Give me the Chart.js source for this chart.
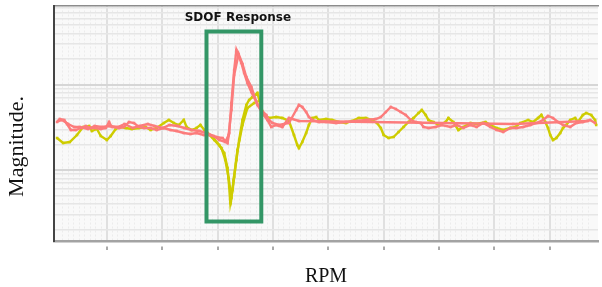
<!DOCTYPE html>
<html>
<head>
<meta charset="utf-8">
<script src="https://cdn.jsdelivr.net/npm/chart.js@4.4.0/dist/chart.umd.min.js"></script>
<style>
  html, body { margin: 0; padding: 0; background: #fff; }
  #wrap { width: 602px; height: 287px; position: relative; }
</style>
</head>
<body>
<div id="wrap"><canvas id="sdof-chart"></canvas></div>
<script>
// values (rpm, magnitude in plot units)
var pinkRpm = [100,150,230,280,350,440,530,620,710,800,890,980,1040,1090,1220,1310,1400,1490,1580,1670,
    1790,1900,2030,2150,2260,2390,2510,2620,2750,2850,2980,3090,3180,3210,3250,3300,3340,3360,3430,3480,
    3540,3610,3700,3790,3880,3930,3990,4110,4290,4420,4470,4530,4600,4650,4710,4830,4960,5140,5320,5500,
    5680,5860,5950,6040,6130,6220,6310,6400,6490,6580,6670,6720,6810,6940,7050,7210,7320,7440,7570,7680,
    7800,7930,8040,8160,8290,8400,8520,8650,8760,8880,8970,9060,9150,9240,9370,9480,9600,9730,9820];
var pinkMag = [119,122,121,117,111,111,113,115,113,113,112,113,119,114,113,114,119,118,114,113,
    113,111,113,111,110,108,107,108,106,106,104,103,98,108,138,171,191,188,178,168,
    158,149,139,131,126,121,118,116,118,131,136,134,129,124,121,119,119,118,119,120,
    121,122,124,129,134,132,129,126,121,119,118,114,113,114,116,114,116,113,116,114,
    118,114,111,109,113,113,114,116,118,121,125,123,119,116,114,118,119,121,118];

// run-down pass of the red trace
var pinkBackRpm = [9690,8340,4470,4290,4170,4060,3970,3900,3810,3720,3610,3520,3450,3380,3300,3250,3200,3140,3030,2930,
    2800,2670,2530,2400,2280,2130,2010,1860,1740,1590,1470,1320,1200,1050,910,780,660,510,410,300,190,120];
var pinkBackMag = [120,117,120,123,114,116,114,121,128,136,154,164,177,187,166,131,106,99,101,105,
    108,110,111,113,115,116,113,115,117,115,113,117,114,115,114,115,112,114,114,117,121,120];

var yellowRpm = [100,210,330,460,570,680,730,820,890,1000,1070,1160,1250,1340,1450,1580,1700,1790,1900,2030,
    2120,2210,2300,2390,2440,2530,2620,2690,2760,2910,3030,3120,3180,3210,3230,3270,3300,3340,3390,3450,
    3520,3570,3630,3720,3790,3840,3930,4060,4170,4290,4380,4440,4470,4530,4600,4650,4710,4780,4830,4960,
    5070,5190,5320,5430,5550,5680,5790,5880,5950,6000,6090,6180,6270,6360,6450,6540,6630,6690,6760,6810,
    6900,6990,7120,7170,7260,7350,7440,7570,7680,7840,7930,8040,8160,8290,8380,8470,8610,8700,8790,8850,
    8920,8970,9010,9060,9120,9190,9240,9300,9370,9460,9510,9600,9660,9750,9820,9840];
var yellowMag = [103,98,99,106,114,115,110,112,105,101,105,112,114,113,112,113,114,111,113,118,
    121,118,116,121,114,111,113,116,111,104,96,88,73,54,38,51,64,81,101,121,
    136,141,144,148,133,126,123,124,123,120,106,96,93,99,108,116,123,124,121,122,
    121,119,118,120,123,123,121,118,113,106,103,104,109,114,119,123,128,131,126,121,
    119,116,119,123,119,111,114,118,117,119,116,113,111,113,114,118,121,119,123,126,
    119,113,106,101,103,108,113,116,121,123,119,126,128,126,121,116];

// second pass of the yellow trace through the resonance
var yellowBackRpm = [3790,3660,3540,3450,3360,3290,3250,3200,3140,3070,2940,2820];
var yellowBackMag = [141,138,133,116,91,61,43,63,81,93,101,108];

var rpmTicks = [1000,2000,3000,4000,5000,6000,7000,8000,9000];
var rpmMin = 45, rpmMax = 9873;
var magMin = 0, magMax = 235;
var gridDecades = [0.1, 1, 10];
var sdofBox = { from: 2800, to: 3790, low: 19.5, high: 209.5 };

var pink = 'rgb(252,124,124)';
var yellow = 'rgb(206,204,0)';
var boxGreen = 'rgb(51,150,102)';

function toPoints(xs, ys) {
    var pts = [];
    for (let i = 0; i < xs.length; i++) {
        pts.push({x: xs[i], y: ys[i]});
    }
    return pts;
}

function traceSet(label, xs, ys, color, order) {
    return {
        label: label,
        data: toPoints(xs, ys),
        showLine: true,
        borderColor: color,
        backgroundColor: color,
        borderWidth: 2.4,
        pointStyle: 'rect',
        pointRadius: 1.8,
        pointBorderWidth: 0,
        tension: 0,
        order: order
    };
}

var gridTicks = [];
gridDecades.forEach(function (d) {
    for (let k = 1; k < 10; k++) gridTicks.push(+(d * k).toPrecision(3));
});

var plotDecor = {
    id: 'plotDecor',
    beforeDraw: function (chart) {
        var a = chart.chartArea, ctx = chart.ctx;
        ctx.save();
        ctx.fillStyle = '#f9f9f9';
        ctx.fillRect(a.left, a.top, a.right - a.left, a.bottom - a.top);
        ctx.restore();
    },
    afterDatasetsDraw: function (chart) {
        var ctx = chart.ctx, xs = chart.scales.x, ys = chart.scales.y;
        var x1 = xs.getPixelForValue(sdofBox.from), x2 = xs.getPixelForValue(sdofBox.to);
        var y1 = ys.getPixelForValue(sdofBox.high), y2 = ys.getPixelForValue(sdofBox.low);
        ctx.save();
        ctx.strokeStyle = boxGreen;
        ctx.lineWidth = 4;
        ctx.strokeRect(x1, y1, x2 - x1, y2 - y1);
        ctx.fillStyle = '#111';
        ctx.font = 'bold 12px "DejaVu Sans"';
        ctx.textAlign = 'center';
        ctx.textBaseline = 'middle';
        ctx.fillText('SDOF Response', (x1 + x2) / 2 + 4, y1 - 14);
        ctx.restore();
    },
    afterDraw: function (chart) {
        var a = chart.chartArea, ctx = chart.ctx;
        ctx.save();
        ctx.translate(a.left - 37, (a.top + a.bottom) / 2 + 23);
        ctx.rotate(-Math.PI / 2);
        ctx.fillStyle = '#111';
        ctx.font = '22px "Liberation Serif"';
        ctx.textAlign = 'center';
        ctx.textBaseline = 'middle';
        ctx.fillText('Magnitude.', 0, 0);
        ctx.restore();
    }
};

document.addEventListener('DOMContentLoaded', function () {
    var ctx = document.getElementById('sdof-chart').getContext('2d');
    new Chart(ctx, {
        type: 'scatter',
        data: {
            datasets: [
                traceSet('Response A', pinkRpm, pinkMag, pink, 0),
                traceSet('Response A back', pinkBackRpm, pinkBackMag, pink, 1),
                traceSet('Response B', yellowRpm, yellowMag, yellow, 2),
                traceSet('Response B back', yellowBackRpm, yellowBackMag, yellow, 3)
            ]
        },
        options: {
            responsive: true,
            maintainAspectRatio: false,
            animation: false,
            devicePixelRatio: 1,
            layout: { padding: { left: 46, right: 2, top: 6, bottom: 0 } },
            plugins: {
                legend: { display: false },
                tooltip: { enabled: false }
            },
            scales: {
                x: {
                    type: 'linear',
                    position: 'bottom',
                    min: rpmMin,
                    max: rpmMax,
                    afterBuildTicks: function (s) {
                        s.ticks = rpmTicks.map(function (v) { return {value: v}; });
                    },
                    ticks: { display: false },
                    grid: {
                        color: '#e0e0e0',
                        lineWidth: 2,
                        drawTicks: true,
                        tickLength: 9,
                        tickColor: '#555',
                        tickWidth: 1,
                        tickBorderDash: [0, 4, 5, 20]
                    },
                    border: { color: '#a3a3a3', width: 2.5 },
                    title: {
                        display: true,
                        text: 'RPM',
                        color: '#111',
                        font: { family: 'Liberation Serif', size: 20, lineHeight: 1 },
                        padding: { top: 17, bottom: 0 }
                    }
                },
                x2: {
                    type: 'linear',
                    position: 'top',
                    min: rpmMin,
                    max: rpmMax,
                    ticks: { display: false, stepSize: 100 },
                    afterBuildTicks: function (s) {
                        s.ticks = s.ticks.filter(function (t) {
                            return t.value % 100 === 0 && t.value % 1000 !== 0;
                        });
                    },
                    grid: { color: '#ececec', lineWidth: 1, drawTicks: false },
                    border: { color: '#8c8c8c', width: 1.5, dash: [2, 2] }
                },
                y: {
                    type: 'linear',
                    position: 'left',
                    min: magMin,
                    max: magMax,
                    ticks: { display: false },
                    grid: { display: false },
                    border: { color: '#444', width: 2 }
                },
                y2: {
                    type: 'logarithmic',
                    position: 'left',
                    min: 0.147,
                    max: 84,
                    ticks: { display: false },
                    afterBuildTicks: function (s) {
                        s.ticks = gridTicks.filter(function (v) {
                            return v > 0.147 && v < 84;
                        }).map(function (v) { return {value: v}; });
                    },
                    grid: {
                        drawTicks: false,
                        color: function (c) {
                            var v = c.tick ? c.tick.value : 0;
                            return gridDecades.indexOf(v) >= 0 ? '#d6d6d6' : '#e6e6e6';
                        },
                        lineWidth: function (c) {
                            var v = c.tick ? c.tick.value : 0;
                            return gridDecades.indexOf(v) >= 0 ? 2 : 1.5;
                        }
                    },
                    border: { display: false }
                }
            }
        },
        plugins: [plotDecor]
    });
});
</script>
</body>
</html>
